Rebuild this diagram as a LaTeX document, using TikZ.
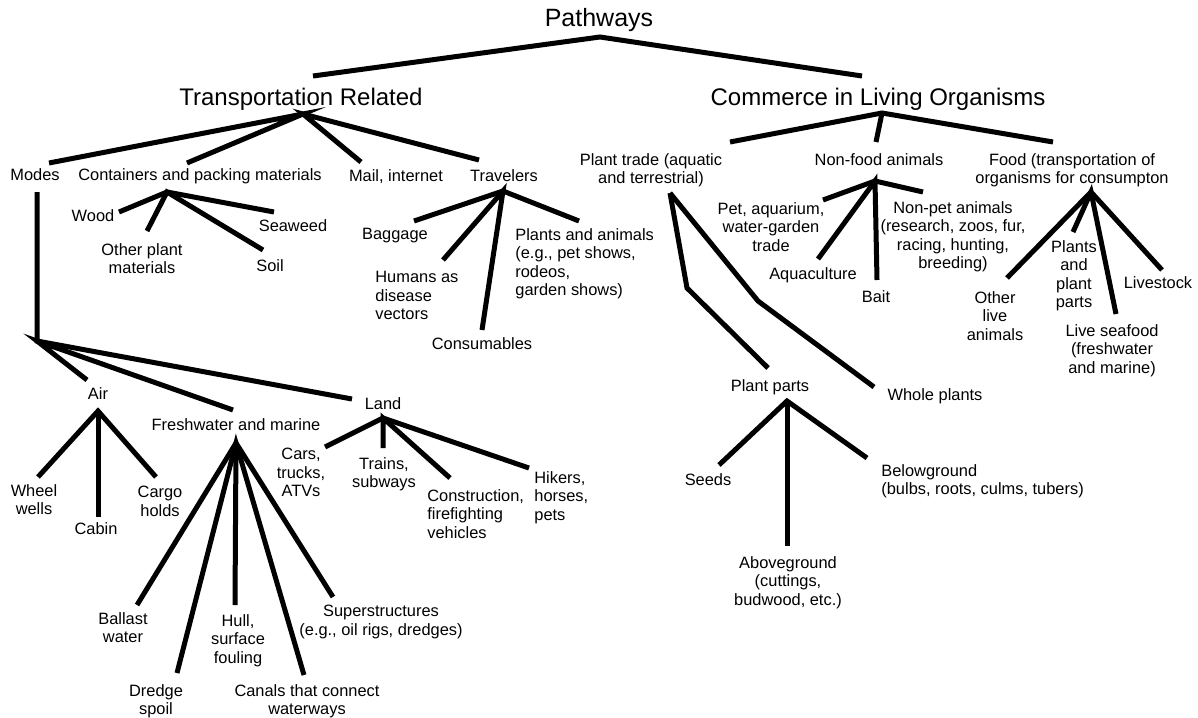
\documentclass[tikz,border=0pt]{standalone}
\usepackage{fontspec}
\setmainfont{Liberation Sans}
\begin{document}
\begin{tikzpicture}[x=0.5pt,y=-0.5pt,
  conn/.style={line width=2.5pt, line cap=butt, line join=miter},
  lbl/.style={inner sep=0pt, anchor=north, align=center, font=\fontsize{8.2}{9.25}\selectfont},
  lbll/.style={lbl, align=left, anchor=north west},
  big/.style={inner sep=0pt, anchor=north, font=\fontsize{12}{14}\selectfont}]
\useasboundingbox (0,0) rectangle (1198,717);

% ---------- labels ----------
\node[big] (path) at (599,8) {\fontsize{12.5}{14}\selectfont Pathways};
\node[big] (tr) at (301,88) {Transportation Related};
\node[big] (clo) at (878,88) {Commerce in Living Organisms};

\node[lbl] (modes) at (35,168) {Modes};
\node[lbl] (cont) at (200,168) {Containers and packing materials};
\node[lbl] (mail) at (396,169) {Mail, internet};
\node[lbl] (trav) at (504,169) {Travelers};

\node[lbl] (wood) at (93,209) {Wood};
\node[lbl] (other) at (142,243) {Other plant\\materials};
\node[lbl] (soil) at (270,259) {Soil};
\node[lbl] (seaweed) at (293,219) {Seaweed};

\node[lbl] (baggage) at (395,228) {Baggage};
\node[lbll] (humans) at (375,271) {Humans as\\disease\\vectors};
\node[lbl] (consum) at (482,337) {Consumables};
\node[lbll] (plants) at (515,228) {Plants and animals\\(e.g., pet shows,\\rodeos,\\garden shows)};

\node[lbl] (air) at (98,387) {Air};
\node[lbl] (fresh) at (236,418) {Freshwater and marine};
\node[lbl] (land) at (383,397) {Land};

\node[lbl] (wheel) at (34,484) {Wheel\\wells};
\node[lbl] (cabin) at (96,522) {Cabin};
\node[lbl] (cargo) at (160,486) {Cargo\\holds};

\node[lbl] (ballast) at (123,612) {Ballast\\water};
\node[lbl] (dredge) at (156,684) {Dredge\\spoil};
\node[lbl] (hull) at (238,614) {Hull,\\surface\\fouling};
\node[lbl] (canals) at (307,684) {Canals that connect\\waterways};
\node[lbl] (super) at (381,605) {Superstructures\\(e.g., oil rigs, dredges)};

\node[lbl] (cars) at (301,448) {Cars,\\trucks,\\ATVs};
\node[lbl] (trains) at (384,457) {Trains,\\subways};
\node[lbll] (constr) at (427,489) {Construction,\\firefighting\\vehicles};
\node[lbll] (hikers) at (534,471) {Hikers,\\horses,\\pets};

\node[lbl] (ptrade) at (651,153) {Plant trade (aquatic\\and terrestrial)};
\node[lbl] (nonfood) at (879,153) {Non-food animals};
\node[lbl] (food) at (1072,153) {Food (transportation of\\organisms for consumpton};

\node[lbl] (pet) at (771,202) {Pet, aquarium,\\water-garden\\trade};
\node[lbl] (aqua) at (813,267) {Aquaculture};
\node[lbl] (bait) at (876,290) {Bait};
\node[lbl] (nonpet) at (953,201) {Non-pet animals\\(research, zoos, fur,\\racing, hunting,\\breeding)};

\node[lbl] (otherlive) at (995,291) {Other\\live\\animals};
\node[lbl] (plantsfood) at (1074,240) {Plants\\and\\plant\\parts};
\node[lbl] (seafood) at (1112,324) {Live seafood\\(freshwater\\and marine)};
\node[lbl] (livestock) at (1158,276) {Livestock};

\node[lbl] (pparts) at (770,379) {Plant parts};
\node[lbl] (whole) at (935,388) {Whole plants};
\node[lbl] (seeds) at (708,473) {Seeds};
\node[lbl] (above) at (788,556) {Aboveground\\(cuttings,\\budwood, etc.)};
\node[lbll] (below) at (881,464) {Belowground\\(bulbs, roots, culms, tubers)};

% ---------- junctions and connector ends ----------
\coordinate (path-j) at (600,37);
\coordinate (tr-e) at (313,76);
\coordinate (clo-e) at (862,76);

\coordinate (tr-j) at (303,114);
\coordinate (modes-e) at (49,163);
\coordinate (cont-e) at (187,163);
\coordinate (mail-e) at (361,162);
\coordinate (trav-e) at (479,160);

\coordinate (cont-j) at (167,192);
\coordinate (wood-e) at (119,212);
\coordinate (other-e) at (147,231);
\coordinate (soil-e) at (263,250);
\coordinate (seaweed-e) at (274,212);

\coordinate (trav-j) at (503,191);
\coordinate (baggage-e) at (414,221);
\coordinate (humans-e) at (443,260);
\coordinate (consum-e) at (482,330);
\coordinate (plants-e) at (579,221);

\coordinate (modes-j) at (37,192);
\coordinate (modes-k) at (37,341);
\coordinate (air-e) at (87,380);
\coordinate (fresh-e) at (233,410);
\coordinate (land-e) at (352,399);

\coordinate (air-j) at (98,411);
\coordinate (wheel-e) at (38,477);
\coordinate (cabin-e) at (98,517);
\coordinate (cargo-e) at (156,477);

\coordinate (fresh-j) at (236,443);
\coordinate (ballast-e) at (137,605);
\coordinate (dredge-e) at (177,673);
\coordinate (hull-e) at (235,605);
\coordinate (canals-e) at (304,675);
\coordinate (super-e) at (333,597);

\coordinate (land-j) at (383,418);
\coordinate (cars-e) at (325,447);
\coordinate (trains-e) at (383,448);
\coordinate (constr-e) at (450,478);
\coordinate (hikers-e) at (529,468);

\coordinate (clo-j) at (882,113);
\coordinate (ptrade-e) at (730,142);
\coordinate (nonfood-e) at (876,142);
\coordinate (food-e) at (1053,142);

\coordinate (ptrade-j) at (670,193);
\coordinate (pparts-b) at (687,288);
\coordinate (pparts-e) at (768,368);
\coordinate (whole-b) at (758,301);
\coordinate (whole-e) at (874,387);

\coordinate (nonfood-j) at (875,181);
\coordinate (pet-e) at (823,200);
\coordinate (aqua-e) at (818,259);
\coordinate (bait-e) at (877,280);
\coordinate (nonpet-e) at (923,192);

\coordinate (food-j) at (1091,192);
\coordinate (otherlive-e) at (1007,278);
\coordinate (plantsfood-e) at (1073,232);
\coordinate (seafood-e) at (1116,314);
\coordinate (livestock-e) at (1162,270);

\coordinate (pparts-j) at (787,401);
\coordinate (seeds-e) at (719,465);
\coordinate (above-e) at (787,546);
\coordinate (below-e) at (867,458);

% ---------- connectors ----------
\draw[conn] (tr-e) -- (path-j) -- (clo-e);

\draw[conn] (modes-e) -- (tr-j) -- (cont-e);
\draw[conn] (mail-e) -- (tr-j) -- (trav-e);

\draw[conn] (wood-e) -- (cont-j) -- (seaweed-e);
\draw[conn] (other-e) -- (cont-j) -- (soil-e);

\draw[conn] (baggage-e) -- (trav-j) -- (plants-e);
\draw[conn] (humans-e) -- (trav-j) -- (consum-e);

\draw[conn] (modes-j) -- (modes-k) -- (land-e);
\draw[conn] (air-e) -- (modes-k) -- (fresh-e);

\draw[conn] (wheel-e) -- (air-j) -- (cargo-e);
\draw[conn] (air-j) -- (cabin-e);

\draw[conn] (ballast-e) -- (fresh-j) -- (super-e);
\draw[conn] (dredge-e) -- (fresh-j) -- (canals-e);
\draw[conn] (fresh-j) -- (hull-e);

\draw[conn] (cars-e) -- (land-j) -- (hikers-e);
\draw[conn] (trains-e) -- (land-j) -- (constr-e);

\draw[conn] (ptrade-e) -- (clo-j) -- (food-e);
\draw[conn] (clo-j) -- (nonfood-e);

\draw[conn] (ptrade-j) -- (pparts-b) -- (pparts-e);
\draw[conn] (ptrade-j) -- (whole-b) -- (whole-e);

\draw[conn] (pet-e) -- (nonfood-j) -- (nonpet-e);
\draw[conn] (aqua-e) -- (nonfood-j) -- (bait-e);

\draw[conn] (otherlive-e) -- (food-j) -- (livestock-e);
\draw[conn] (plantsfood-e) -- (food-j) -- (seafood-e);

\draw[conn] (seeds-e) -- (pparts-j) -- (below-e);
\draw[conn] (pparts-j) -- (above-e);
\end{tikzpicture}
\end{document}
